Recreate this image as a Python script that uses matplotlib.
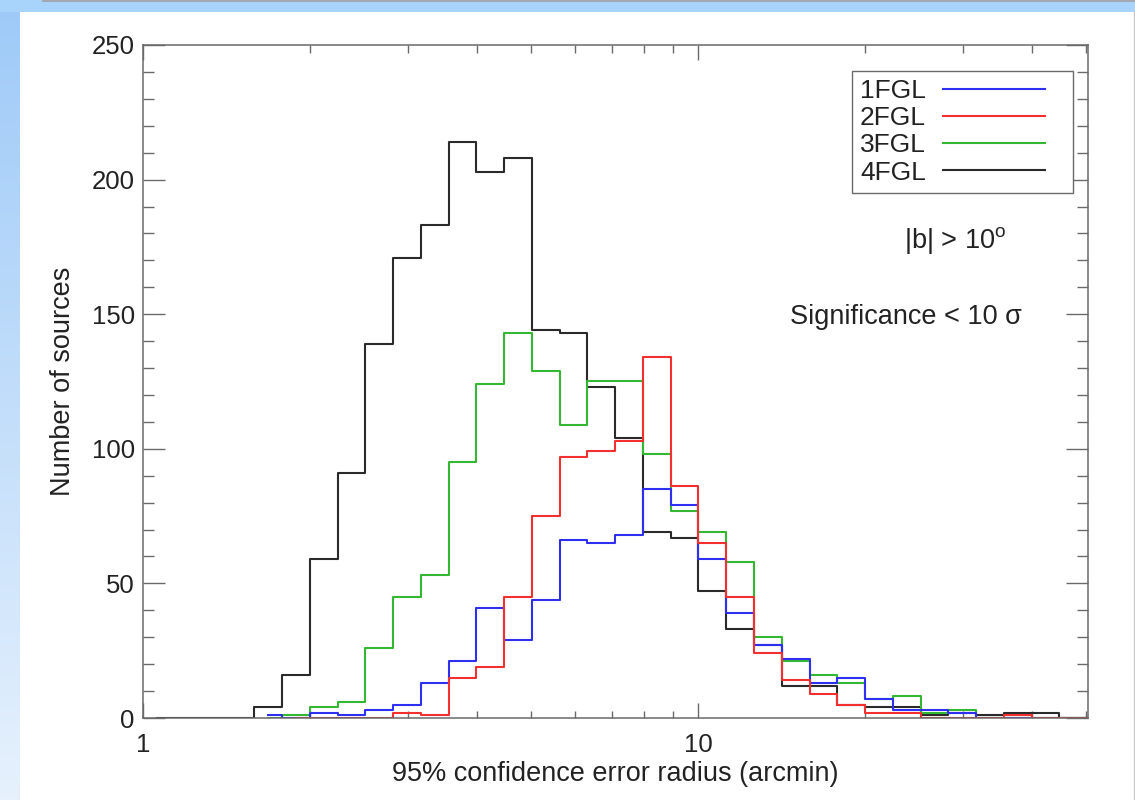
import numpy as np
import matplotlib
matplotlib.use('Agg')
import matplotlib.pyplot as plt
from matplotlib.patches import Rectangle
from matplotlib.colors import LinearSegmentedColormap

plt.rcParams['font.family'] = ['Liberation Sans', 'DejaVu Sans']
plt.rcParams['mathtext.fontset'] = 'custom'
plt.rcParams['mathtext.rm'] = 'Liberation Sans'

# log10-spaced bins, 0.05 dex wide, starting at 1 arcmin
bin_width_dex = 0.05
n_bins = 35

# counts per bin (bin index 0 = 1.00-1.12 arcmin)
counts_1fgl = [0, 0, 0, 0, 1, 0, 2, 1, 3, 5, 13, 21, 41, 29, 44, 66, 65, 68, 85, 79,
               59, 39, 27, 22, 13, 15, 7, 3, 3, 2, 0, 0, 0, 0, 0]
counts_2fgl = [0, 0, 0, 0, 0, 0, 0, 0, 0, 2, 1, 15, 19, 45, 75, 97, 99, 103, 134, 86,
               65, 45, 24, 14, 9, 5, 2, 2, 0, 0, 0, 1, 0, 0, 0]
counts_3fgl = [0, 0, 0, 0, 0, 1, 4, 6, 26, 45, 53, 95, 124, 143, 129, 109, 125, 125, 98, 77,
               69, 58, 30, 21, 16, 13, 7, 8, 2, 3, 0, 0, 0, 0, 0]
counts_4fgl = [0, 0, 0, 0, 4, 16, 59, 91, 139, 171, 183, 214, 203, 208, 144, 143, 123, 104, 69, 67,
               47, 33, 27, 12, 12, 5, 4, 4, 1, 2, 1, 2, 2, 0, 0]
# first bin of each catalogue histogram (IDL psym=10 starts at that bin centre)
first_bin = {'1FGL': 4, '2FGL': 5, '3FGL': 4, '4FGL': 0}

catalogs = ['1FGL', '2FGL', '3FGL', '4FGL']
series = {'1FGL': counts_1fgl, '2FGL': counts_2fgl, '3FGL': counts_3fgl, '4FGL': counts_4fgl}
colors = {'1FGL': '#2f2ff2', '2FGL': '#f23030', '3FGL': '#34b834', '4FGL': '#2a2a2a'}

centers = 10 ** (bin_width_dex * (np.arange(n_bins) + 0.5))

fig = plt.figure(figsize=(11.35, 8), dpi=100)
fig.patch.set_facecolor('white')

# slide frame: blue gradient strip on the left, flat strip on top
bg = fig.add_axes([0, 0, 1, 1], zorder=-10)
cmap = LinearSegmentedColormap.from_list('frame', ['#9ecaf8', '#e6f1fd'])
bg.imshow(np.linspace(0, 1, 256)[:, None], extent=[0, 20, 800, 0], cmap=cmap, aspect='auto')
bg.add_patch(Rectangle((0, 0), 1135, 12, color='#a8d3fb', lw=0))
bg.plot([43, 1135], [0.5, 0.5], color='#a0a0a0', lw=1.2)
bg.plot([1133.5, 1133.5], [12, 800], color='#c8c8c8', lw=1.0)
bg.set_xlim(0, 1135)
bg.set_ylim(800, 0)
bg.axis('off')

ax = fig.add_axes([143 / 1135, 82 / 800, 945 / 1135, 673 / 800])
for cat in ['4FGL', '3FGL', '1FGL', '2FGL']:
    s = first_bin[cat]
    ax.step(centers[s:], np.asarray(series[cat])[s:], where='mid',
            color=colors[cat], lw=1.5, label=cat)

ax.set_xscale('log')
ax.set_xlim(1, 50.4)
ax.set_ylim(0, 250)
ax.set_xticks([1, 10])
ax.set_xticklabels(['1', '10'])
ax.set_xticks([2, 3, 4, 5, 6, 7, 8, 9, 20, 30, 40, 50], minor=True)
ax.xaxis.set_minor_formatter(matplotlib.ticker.NullFormatter())
ax.set_yticks(np.arange(0, 251, 50))
ax.set_yticks(np.arange(0, 251, 10), minor=True)

for sp in ax.spines.values():
    sp.set_color('#6a6a6a')
    sp.set_linewidth(1.1)
ax.tick_params(which='both', direction='in', top=True, right=True,
               colors='#6a6a6a', labelcolor='#222222')
ax.tick_params(axis='x', which='major', length=10.8, width=1.0, pad=11, labelsize=18.5)
ax.tick_params(axis='x', which='minor', length=5.4, width=1.0)
ax.tick_params(axis='y', which='major', length=15.5, width=1.0, pad=6, labelsize=18.5)
ax.tick_params(axis='y', which='minor', length=7.7, width=1.0)

ax.set_xlabel('95% confidence error radius (arcmin)', fontsize=19.5, color='#222222')
ax.xaxis.set_label_coords(0.5, -0.064)
ax.set_ylabel('Number of sources', fontsize=19.5, color='#222222')
ax.yaxis.set_label_coords(-0.071, 0.5)

handles, labels = ax.get_legend_handles_labels()
order = [labels.index(c) for c in catalogs]
leg = ax.legend([handles[i] for i in order], [labels[i] for i in order],
                loc='upper left', bbox_to_anchor=(0.7503, 0.5, 0.2339, 0.461),
                mode='expand', markerfirst=False,
                fontsize=19, frameon=True, fancybox=False, framealpha=1,
                edgecolor='#6a6a6a', handlelength=3.85, handletextpad=0.65,
                labelspacing=0.12, borderpad=0.3, borderaxespad=0)
leg.get_frame().set_linewidth(1.0)
for t in leg.get_texts():
    t.set_color('#222222')

ax.text(0.859, 0.710, r'|b| > 10$^{\mathrm{o}}$', transform=ax.transAxes,
        fontsize=19.5, color='#222222', ha='center', va='center')
ax.text(0.807, 0.596, 'Significance < 10 \u03c3', transform=ax.transAxes,
        fontsize=19.5, color='#222222', ha='center', va='center')

fig.savefig('out.png', dpi=100)
